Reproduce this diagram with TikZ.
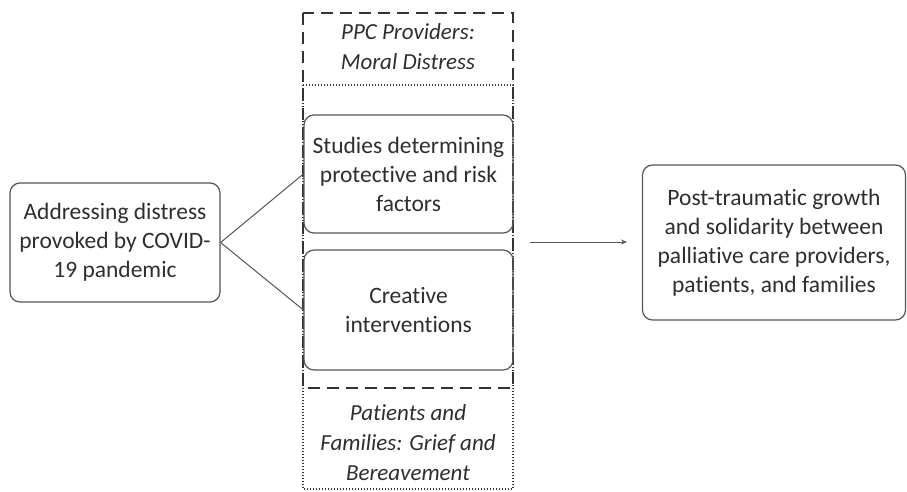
\documentclass[tikz,border=0pt]{standalone}
\usepackage{fontspec}
\setmainfont{Carlito}[Ligatures=NoCommon]
\usetikzlibrary{arrows.meta}
\definecolor{ln}{HTML}{555555}
\definecolor{tx}{HTML}{2E2E2E}
\tikzset{
  rbox/.style={draw=ln, line width=1.2pt, rounded corners=10pt, align=center, text=tx, inner sep=0pt,
    font=\fontsize{23.5}{29}\selectfont},
  lbl/.style={align=center, text=tx, font=\fontsize{23}{30}\selectfont\itshape},
  conn/.style={draw=ln, line width=1pt},
  dashframe/.style={draw=black!80, line width=1.7pt, dash pattern=on 12pt off 7pt},
  dotframe/.style={draw=black!80, line width=1.3pt, dash pattern=on 1.3pt off 1.7pt}
}
\begin{document}
\begin{tikzpicture}[x=1pt,y=-1pt]
\useasboundingbox (0,0) rectangle (907,491);
% frames
\draw[dashframe] (303,13) rectangle (513,388);
\draw[dotframe] (303,85) rectangle (513,489);
% texts in frames
\node[lbl] (top) at (408,47) {PPC Providers:\\Moral Distress};
\node[lbl] (bot) at (408,443) {Patients and\\Families: Grief and\\Bereavement};
% boxes
\node[rbox, minimum width=209pt, minimum height=118pt] (s) at (408.5,174) {Studies determining\\protective and risk\\factors};
\node[rbox, minimum width=209pt, minimum height=120pt] (c) at (408.5,310) {Creative\\interventions};
\node[rbox, minimum width=210pt, minimum height=119pt] (a) at (115,242.5) {Addressing distress\\provoked by COVID-\\19 pandemic};
\node[rbox, minimum width=263pt, minimum height=155pt] (p) at (774,242.5) {Post-traumatic growth\\and solidarity between\\palliative care providers,\\patients, and families};
% connectors
\draw[conn] (a.east) -- (s.west);
\draw[conn] (a.east) -- (c.west);
\coordinate (as) at (530,242);
\coordinate (ae) at (627,242);
\draw[conn, -{Stealth[length=6pt,width=5pt]}] (as) -- (ae);
\end{tikzpicture}
\end{document}
